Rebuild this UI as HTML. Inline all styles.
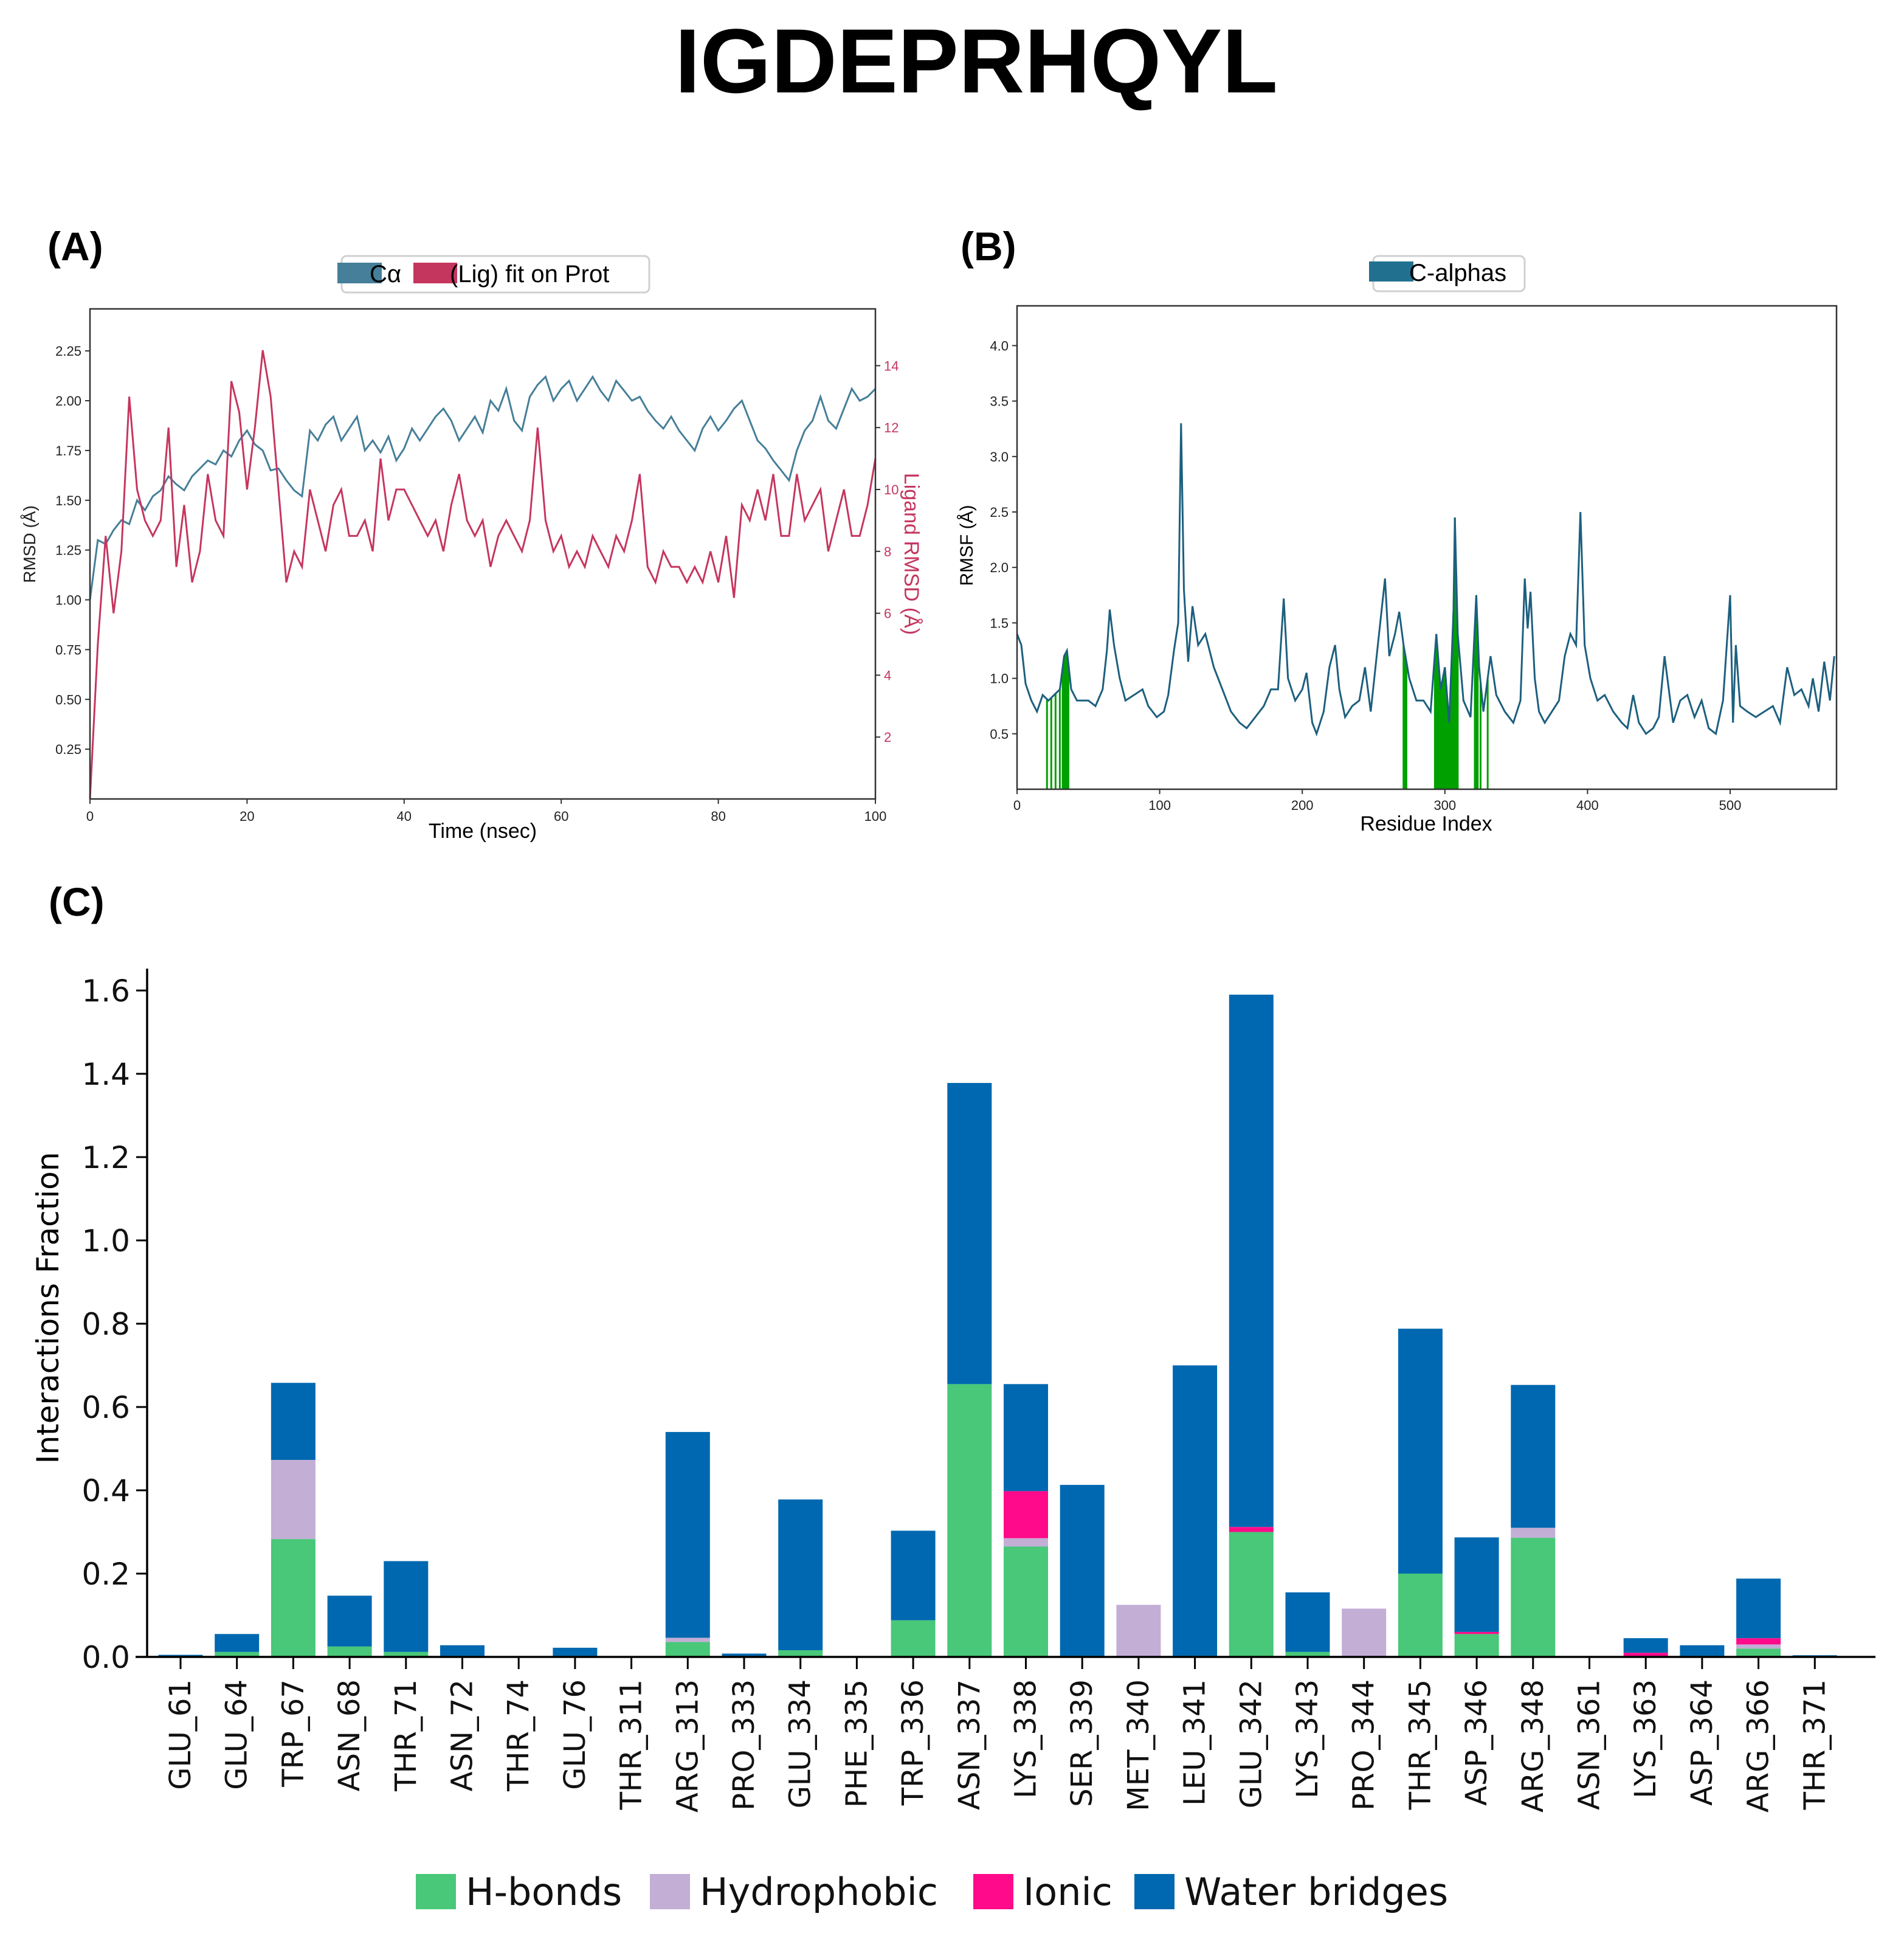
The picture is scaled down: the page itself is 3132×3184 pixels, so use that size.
<!DOCTYPE html>
<html><head><meta charset="utf-8">
<style>
html,body{margin:0;padding:0;background:#fff;}
svg{display:block;}
text{font-family:"Liberation Sans",sans-serif;}
.dv{font-family:"DejaVu Sans","Liberation Sans",sans-serif;}
</style></head>
<body>
<svg id="fig" width="3132" height="3184" viewBox="0 0 3132 3184" xmlns="http://www.w3.org/2000/svg">
<rect x="0" y="0" width="3132" height="3184" fill="#fff"/>
<text x="1606" y="152" text-anchor="middle" font-size="150" font-weight="bold">IGDEPRHQYL</text>
<text x="78" y="428" font-size="66" font-weight="bold">(A)</text>
<text x="1580" y="428" font-size="66" font-weight="bold">(B)</text>
<text x="80" y="1506" font-size="66" font-weight="bold">(C)</text>
<g id="pa"></g>
<g id="pb"></g>
<g id="pc"></g>
</svg>
<script>
// ---------- Panel A data ----------
const protRmsd = [1.0,1.3,1.28,1.35,1.4,1.38,1.5,1.45,1.52,1.55,1.62,1.58,1.55,1.62,1.66,1.7,1.68,1.75,1.72,1.8,1.85,1.78,1.75,1.65,1.66,1.6,1.55,1.52,1.85,1.8,1.88,1.92,1.8,1.86,1.92,1.75,1.8,1.74,1.82,1.7,1.76,1.86,1.8,1.86,1.92,1.96,1.9,1.8,1.86,1.92,1.84,2.0,1.95,2.06,1.9,1.85,2.02,2.08,2.12,2.0,2.06,2.1,2.0,2.06,2.12,2.05,2.0,2.1,2.05,2.0,2.02,1.95,1.9,1.86,1.92,1.85,1.8,1.75,1.86,1.92,1.85,1.9,1.96,2.0,1.9,1.8,1.76,1.7,1.65,1.6,1.75,1.85,1.9,2.02,1.9,1.86,1.96,2.06,2.0,2.02,2.06];
const ligRmsd = [0,5,8.5,6,8,13,10,9,8.5,9,12,7.5,9.5,7,8,10.5,9,8.5,13.5,12.5,10,12,14.5,13,10,7,8,7.5,10,9,8,9.5,10,8.5,8.5,9,8,11,9,10,10,9.5,9,8.5,9,8,9.5,10.5,9,8.5,9,7.5,8.5,9,8.5,8,9,12,9,8,8.5,7.5,8,7.5,8.5,8,7.5,8.5,8,9,10.5,7.5,7,8,7.5,7.5,7,7.5,7,8,7,8.5,6.5,9.5,9,10,9,10.5,8.5,8.5,10.5,9,9.5,10,8,9,10,8.5,8.5,9.5,11];
const aLeftTicks = [0.25,0.5,0.75,1.0,1.25,1.5,1.75,2.0,2.25];
const aRightTicks = [2,4,6,8,10,12,14];
const aXTicks = [0,20,40,60,80,100];
// ---------- Panel B data ----------
const resIdx = [0,3,6,10,14,18,22,26,30,33,35,38,42,50,55,60,63,65,68,72,76,82,88,92,98,103,106,110,113,115,117,120,123,127,132,138,144,150,156,161,167,173,178,183,187,190,195,200,203,207,210,215,219,223,226,230,235,240,244,248,253,258,261,265,268,271,275,280,285,290,294,297,300,303,306,307,309,313,318,322,324,327,332,336,342,348,353,356,358,360,363,366,370,375,380,384,388,392,395,398,402,407,412,418,424,428,432,436,441,446,450,454,457,460,465,470,475,480,485,490,495,500,502,504,507,512,518,524,530,535,540,545,550,555,558,562,566,570,573];
const rmsfVal = [1.4,1.3,0.95,0.8,0.7,0.85,0.8,0.85,0.9,1.2,1.25,0.9,0.8,0.8,0.75,0.9,1.25,1.62,1.3,1.0,0.8,0.85,0.9,0.75,0.65,0.7,0.85,1.25,1.5,3.3,1.8,1.15,1.65,1.3,1.4,1.1,0.9,0.7,0.6,0.55,0.65,0.75,0.9,0.9,1.72,1.0,0.8,0.9,1.05,0.6,0.5,0.7,1.1,1.3,0.9,0.65,0.75,0.8,1.1,0.7,1.3,1.9,1.2,1.4,1.6,1.3,1.0,0.8,0.8,0.7,1.4,0.9,1.1,0.6,1.6,2.45,1.4,0.8,0.65,1.75,1.1,0.7,1.2,0.85,0.7,0.6,0.8,1.9,1.45,1.78,1.0,0.7,0.6,0.7,0.8,1.2,1.4,1.3,2.5,1.3,1.0,0.8,0.85,0.7,0.6,0.55,0.85,0.6,0.5,0.55,0.65,1.2,0.9,0.6,0.8,0.85,0.65,0.8,0.55,0.5,0.8,1.75,0.6,1.3,0.75,0.7,0.65,0.7,0.75,0.6,1.1,0.85,0.9,0.75,1.0,0.7,1.15,0.8,1.2];
const contactRes = [21,24,27,30,32,33,34,35,36,271,272,273,293,294,295,296,297,298,299,300,301,302,303,304,305,306,307,308,309,321,322,323,325,330];
const bLeftTicks = [0.5,1.0,1.5,2.0,2.5,3.0,3.5,4.0];
const bXTicks = [0,100,200,300,400,500];
// ---------- Panel C data ----------
const residues = ["GLU_61","GLU_64","TRP_67","ASN_68","THR_71","ASN_72","THR_74","GLU_76","THR_311","ARG_313","PRO_333","GLU_334","PHE_335","TRP_336","ASN_337","LYS_338","SER_339","MET_340","LEU_341","GLU_342","LYS_343","PRO_344","THR_345","ASP_346","ARG_348","ASN_361","LYS_363","ASP_364","ARG_366","THR_371"];
const hbonds = [0,0.012,0.283,0.025,0.012,0,0,0,0,0.036,0,0.016,0,0.088,0.655,0.265,0,0,0,0.3,0.012,0,0.2,0.055,0.286,0,0,0,0.02,0];
const hydrophobic = [0,0,0.19,0,0,0,0,0,0,0.01,0,0,0,0,0,0.02,0,0.125,0,0,0,0.116,0,0,0.024,0,0,0,0.01,0];
const ionic = [0,0,0,0,0,0,0,0,0,0,0,0,0,0,0,0.113,0,0,0,0.012,0,0,0,0.005,0,0,0.01,0,0.015,0];
const waterBridges = [0.005,0.043,0.185,0.122,0.218,0.028,0,0.022,0,0.494,0.008,0.362,0,0.215,0.723,0.257,0.413,0,0.7,1.278,0.143,0,0.588,0.227,0.343,0,0.035,0.028,0.143,0.004];
const cYTicks = [0.0,0.2,0.4,0.6,0.8,1.0,1.2,1.4,1.6];

const NS = "http://www.w3.org/2000/svg";
function mk(tag, attrs, parent){
  const e = document.createElementNS(NS, tag);
  for (const k in attrs) e.setAttribute(k, attrs[k]);
  parent.appendChild(e);
  return e;
}
let e;
// ================= Panel A =================
const pa = document.getElementById('pa');
const aL=148, aR=1440, aT=508, aB=1314;
const xA = t => aL + (t/100)*(aR-aL);
const yAl = v => aB - v*327.5;
const yAr = v => aB - v*50.9;
e = mk('rect',{x:562,y:421,width:506,height:60,rx:8,fill:'#fff',stroke:'#d0d0d0','stroke-width':3},pa);


e = mk('rect',{x:555,y:432,width:73,height:34,fill:'#467f99'},pa);


e = mk('text',{x:608,y:464,'font-size':40},pa); e.textContent='Cα';


e = mk('rect',{x:680,y:432,width:72,height:34,fill:'#c5365f'},pa);


e = mk('text',{x:740,y:464,'font-size':40},pa); e.textContent='(Lig) fit on Prot';


function linePath(arr, xf, yf, n){ return arr.map((v,i)=>(i?'L':'M')+xf(i*100/(n-1)).toFixed(1)+' '+yf(v).toFixed(1)).join(' '); }
e = mk('path',{d:linePath(protRmsd,xA,yAl,protRmsd.length),fill:'none',stroke:'#467f99','stroke-width':3},pa);


e = mk('path',{d:linePath(ligRmsd,xA,yAr,ligRmsd.length),fill:'none',stroke:'#c5365f','stroke-width':3},pa);


e = mk('rect',{x:aL,y:aT,width:aR-aL,height:aB-aT,fill:'none',stroke:'#333','stroke-width':2.5},pa);


for (const v of aLeftTicks){
  mk('line',{x1:aL-8,x2:aL,y1:yAl(v),y2:yAl(v),stroke:'#333','stroke-width':2},pa);
  e = mk('text',{x:aL-14,y:yAl(v)+8,'font-size':22,'text-anchor':'end',fill:'#222'},pa); e.textContent=v.toFixed(2);
  
  
}
for (const v of aRightTicks){
  mk('line',{x1:aR,x2:aR+8,y1:yAr(v),y2:yAr(v),stroke:'#333','stroke-width':2},pa);
  e = mk('text',{x:aR+14,y:yAr(v)+8,'font-size':22,fill:'#c5365f'},pa); e.textContent=v;
  
  
}
for (const v of aXTicks){
  mk('line',{x1:xA(v),x2:xA(v),y1:aB,y2:aB+8,stroke:'#333','stroke-width':2},pa);
  e = mk('text',{x:xA(v),y:aB+36,'font-size':22,'text-anchor':'middle',fill:'#222'},pa); e.textContent=v;
  
  
}
e = mk('text',{x:794,y:1378,'font-size':34,'text-anchor':'middle'},pa); e.textContent='Time (nsec)';


e = mk('text',{x:0,y:0,'font-size':28,'text-anchor':'middle',transform:'translate(58,895) rotate(-90)',fill:'#222'},pa); e.textContent='RMSD (Å)';


e = mk('text',{x:0,y:0,'font-size':34,'text-anchor':'middle',transform:'translate(1488,911) rotate(90)',fill:'#c5365f'},pa); e.textContent='Ligand RMSD (Å)';



// ================= Panel B =================
const pb = document.getElementById('pb');
const bL=1673, bR=3021, bT=503, bB=1298;
const xB = r => bL + r*2.346;
const yB = v => bB - v*182.4;
function rmsfAt(r){
  for (let i=0;i<resIdx.length-1;i++){
    if (r>=resIdx[i] && r<=resIdx[i+1]){ const f=(r-resIdx[i])/(resIdx[i+1]-resIdx[i]); return rmsfVal[i]+(rmsfVal[i+1]-rmsfVal[i])*f; }
  }
  return rmsfVal[rmsfVal.length-1];
}
e = mk('rect',{x:2259,y:421,width:249,height:58,rx:8,fill:'#fff',stroke:'#d0d0d0','stroke-width':3},pb);


e = mk('rect',{x:2252,y:430,width:73,height:33,fill:'#22708f'},pb);


e = mk('text',{x:2318,y:462,'font-size':40},pb); e.textContent='C-alphas';


for (const r of contactRes){
  e = mk('line',{x1:xB(r),x2:xB(r),y1:bB,y2:yB(rmsfAt(r)),stroke:'#00a000','stroke-width':3},pb);
  
  
}
e = mk('path',{d:resIdx.map((r,i)=>(i?'L':'M')+xB(r).toFixed(1)+' '+yB(rmsfVal[i]).toFixed(1)).join(' '),fill:'none',stroke:'#1d5f7e','stroke-width':3},pb);


e = mk('rect',{x:bL,y:bT,width:bR-bL,height:bB-bT,fill:'none',stroke:'#333','stroke-width':2.5},pb);


for (const v of bLeftTicks){
  mk('line',{x1:bL-8,x2:bL,y1:yB(v),y2:yB(v),stroke:'#333','stroke-width':2},pb);
  e = mk('text',{x:bL-14,y:yB(v)+8,'font-size':22,'text-anchor':'end',fill:'#222'},pb); e.textContent=v.toFixed(1);
  
  
}
for (const v of bXTicks){
  mk('line',{x1:xB(v),x2:xB(v),y1:bB,y2:bB+8,stroke:'#333','stroke-width':2},pb);
  e = mk('text',{x:xB(v),y:bB+34,'font-size':22,'text-anchor':'middle',fill:'#222'},pb); e.textContent=v;
  
  
}
e = mk('text',{x:2346,y:1366,'font-size':34,'text-anchor':'middle'},pb); e.textContent='Residue Index';


e = mk('text',{x:0,y:0,'font-size':30,'text-anchor':'middle',transform:'translate(1600,897) rotate(-90)'},pb); e.textContent='RMSF (Å)';



// ================= Panel C =================
const pc = document.getElementById('pc');
const cBase=2725, cL=242;
const xC = i => 297 + i*92.7;
const yC = v => cBase - v*685;
const bw = 73;
const layers = [[hbonds,'#48c878','hbond'],[hydrophobic,'#c3aed6','hydrophobic'],[ionic,'#ff0a8a','ionic'],[waterBridges,'#0068b0','water-bridge']];
for (let i=0;i<residues.length;i++){
  let acc=0;
  for (const [arr,col,nm] of layers){
    const v=arr[i]; if(v<=0) continue;
    e = mk('rect',{x:xC(i)-bw/2,y:yC(acc+v),width:bw,height:v*685,fill:col},pc);
    
    
    acc+=v;
  }
  mk('line',{x1:xC(i),x2:xC(i),y1:cBase,y2:cBase+20,stroke:'#000','stroke-width':3},pc);
  e = mk('text',{x:xC(i),y:2762,'font-size':48,'text-anchor':'end','dominant-baseline':'central',class:'dv',fill:'#111',transform:'rotate(-90 '+xC(i)+' 2762)'},pc); e.textContent=residues[i];
  
  
}
e = mk('line',{x1:cL,x2:cL,y1:1593,y2:cBase+1,stroke:'#000','stroke-width':3.5},pc);


e = mk('line',{x1:223,x2:3085,y1:cBase,y2:cBase,stroke:'#000','stroke-width':3.5},pc);


for (const v of cYTicks){
  mk('line',{x1:cL-18,x2:cL,y1:yC(v),y2:yC(v),stroke:'#000','stroke-width':3},pc);
  e = mk('text',{x:cL-28,y:yC(v)+18,'font-size':50,'text-anchor':'end',class:'dv',fill:'#111'},pc); e.textContent=v.toFixed(1);
  
  
}
e = mk('text',{x:0,y:0,'font-size':50,'text-anchor':'middle',class:'dv',transform:'translate(96,2151) rotate(-90)'},pc); e.textContent='Interactions Fraction';


const legItems=[['H-bonds','#48c878',684],['Hydrophobic','#c3aed6',1069],['Ionic','#ff0a8a',1601],['Water bridges','#0068b0',1866]];
for (const [lab,col,lx] of legItems){
  e = mk('rect',{x:lx,y:3082,width:66,height:58,fill:col},pc);
  
  
  e = mk('text',{x:lx+82,y:3133,'font-size':62,class:'dv',fill:'#111'},pc); e.textContent=lab;
  
  
}
</script>
</body></html>
